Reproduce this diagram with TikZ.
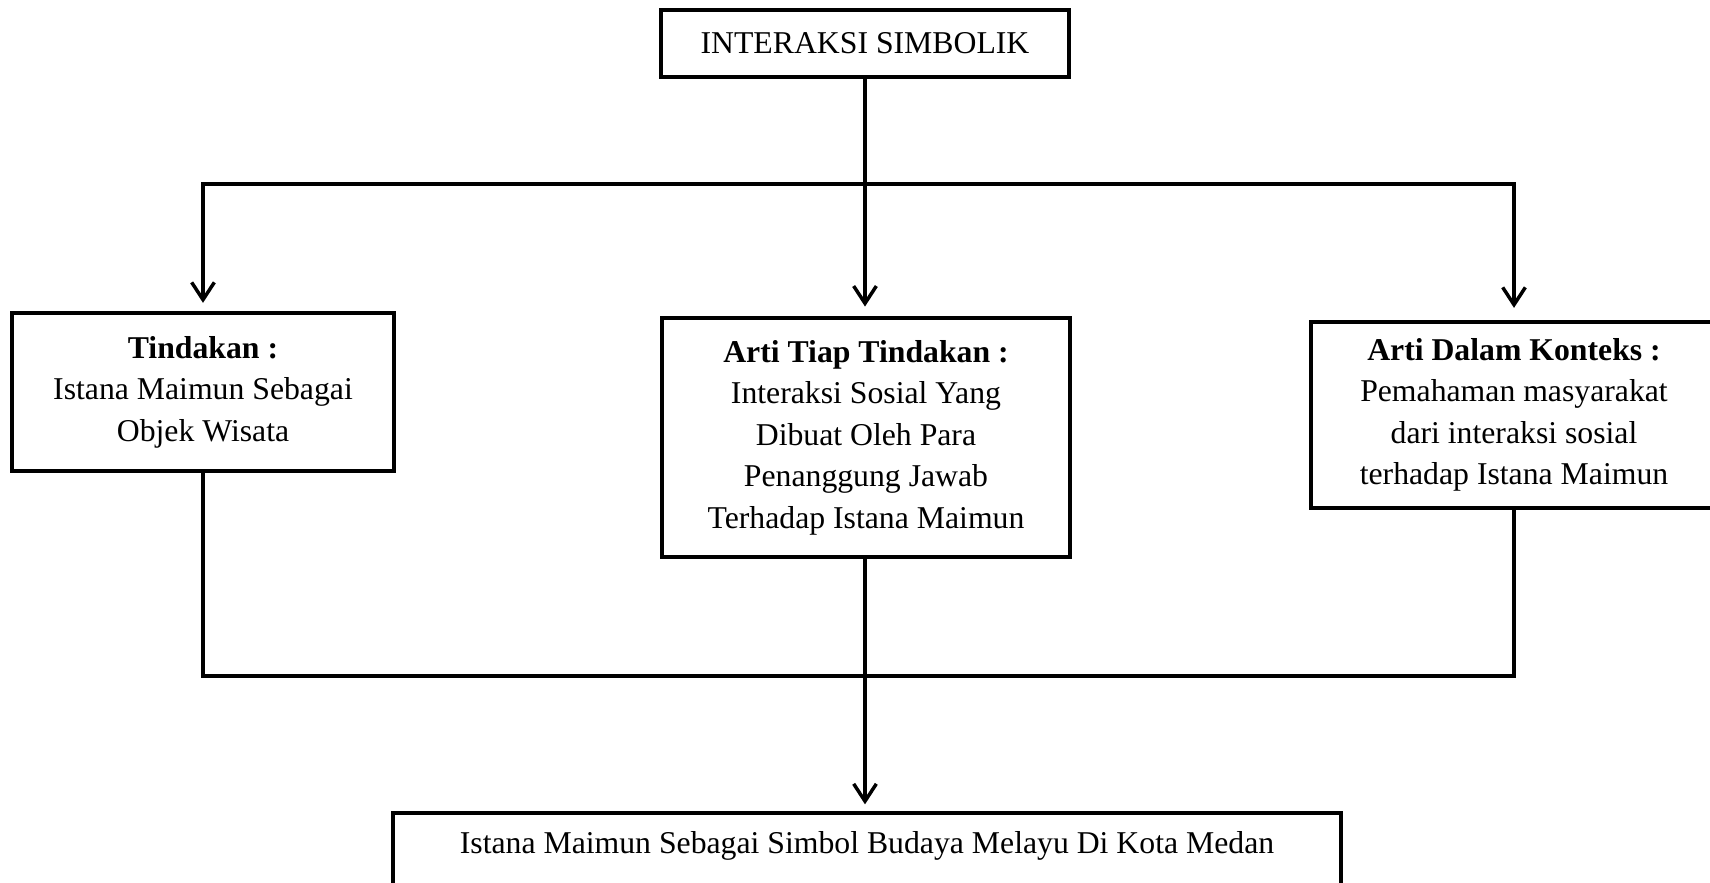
\documentclass[tikz,border=0pt]{standalone}
\usepackage{fontspec}
\setmainfont{Liberation Serif}
\usetikzlibrary{arrows.meta,calc}
\begin{document}
\begin{tikzpicture}[x=0.75pt,y=-0.75pt,
  box/.style={draw, line width=3.2pt, align=center, font=\fontsize{23.8}{31.1}\selectfont, inner sep=0pt},
  conn/.style={line width=2.6pt, line join=miter},
  arr/.style={conn, -{Straight Barb[length=13pt,width=17pt]}}]
\clip (0,0) rectangle (1710,882);
\fill[white] (0,0) rectangle (1710,882);
\node[box, minimum width=306pt, minimum height=50.25pt] (top) at (865,43.5) {INTERAKSI SIMBOLIK};
\node[box, minimum width=286.5pt, minimum height=118.5pt] (act) at (203,392) {\textbf{Tindakan :}\\Istana Maimun Sebagai\\Objek Wisata};
\node[box, minimum width=306pt, minimum height=179.25pt] (mean) at (866,437.5) {\textbf{Arti Tiap Tindakan :}\\Interaksi Sosial Yang\\Dibuat Oleh Para\\Penanggung Jawab\\Terhadap Istana Maimun};
\node[box, minimum width=304.5pt, minimum height=139.5pt] (ctx) at (1514,415) {\textbf{Arti Dalam Konteks :}\\Pemahaman masyarakat\\dari interaksi sosial\\terhadap Istana Maimun};
\node[box, anchor=north, minimum width=711pt, text height=30pt, text depth=75pt] (res) at (867,811) {Istana Maimun Sebagai Simbol Budaya Melayu Di Kota Medan};
\coordinate (split) at (865,184);
\coordinate (merge) at (865,676);
\draw[arr, shorten >=7pt] (top.south) -- (top.south |- mean.north);
\draw[arr, shorten >=6pt] (split) -- (act.north |- split) -- (act.north);
\draw[arr, shorten >=9pt] (split) -- (ctx.north |- split) -- (ctx.north);
\draw[conn] (act.south) -- (act.south |- merge) -- (ctx.south |- merge) -- (ctx.south);
\draw[arr, shorten >=5pt] (top.south |- mean.south) -- (top.south |- res.north);
\end{tikzpicture}
\end{document}
